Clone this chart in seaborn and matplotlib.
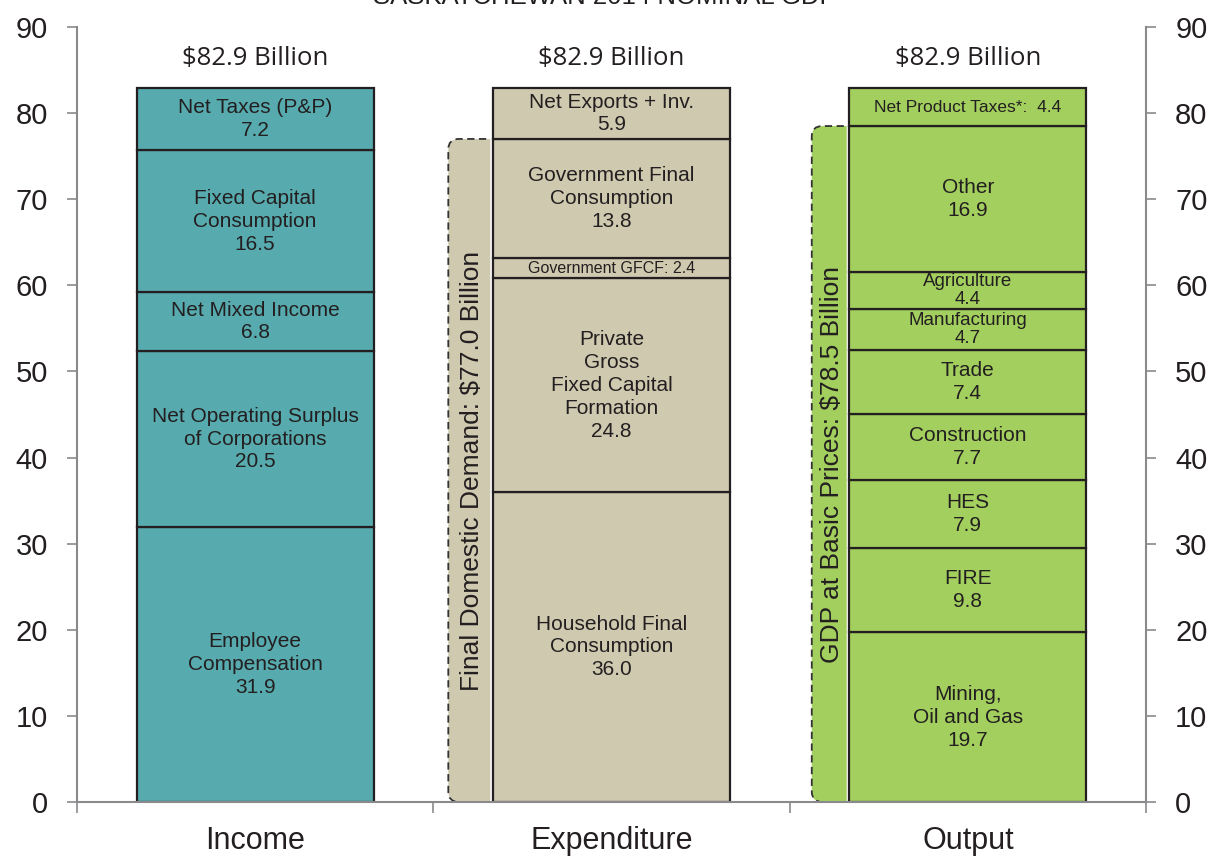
import numpy as np
import pandas as pd
import matplotlib
matplotlib.use("Agg")
import matplotlib.pyplot as plt
from matplotlib.path import Path
from matplotlib.patches import PathPatch
import seaborn as sns

# ---------------- data ----------------
categories = ["Income", "Expenditure", "Output"]
totals_label = ["$82.9 Billion", "$82.9 Billion", "$82.9 Billion"]

income_values = [31.9, 20.5, 6.8, 16.5, 7.2]
income_labels = ["Employee\nCompensation\n31.9",
                 "Net Operating Surplus\nof Corporations\n20.5",
                 "Net Mixed Income\n6.8",
                 "Fixed Capital\nConsumption\n16.5",
                 "Net Taxes (P&P)\n7.2"]

expenditure_values = [36.0, 24.8, 2.4, 13.8, 5.9]
expenditure_labels = ["Household Final\nConsumption\n36.0",
                      "Private\nGross\nFixed Capital\nFormation\n24.8",
                      "Government GFCF: 2.4",
                      "Government Final\nConsumption\n13.8",
                      "Net Exports + Inv.\n5.9"]

output_values = [19.7, 9.8, 7.9, 7.7, 7.4, 4.7, 4.4, 16.9, 4.4]
output_labels = ["Mining,\nOil and Gas\n19.7",
                 "FIRE\n9.8",
                 "HES\n7.9",
                 "Construction\n7.7",
                 "Trade\n7.4",
                 "Manufacturing\n4.7",
                 "Agriculture\n4.4",
                 "Other\n16.9",
                 "Net Product Taxes*:  4.4"]

bracket_totals = [None, 77.0, 78.5]
bracket_labels = [None, "Final Domestic Demand: $77.0 Billion",
                  "GDP at Basic Prices: $78.5 Billion"]

yticks = [0, 10, 20, 30, 40, 50, 60, 70, 80, 90]
title = "SASKATCHEWAN 2014 NOMINAL GDP"

# ---------------- style ----------------
colors = ["#57abae", "#cfc9b0", "#a3cf5e"]
edge = "#231f20"
axis_grey = "#8a8a8c"
text_col = "#231f20"

sns.set_style("white")
plt.rcParams["font.family"] = ["Liberation Sans", "DejaVu Sans"]

fig = plt.figure(figsize=(12.09, 8.57), dpi=100)
ax = fig.add_axes([77 / 1209, 1 - 802 / 857, (1146 - 77) / 1209, (802 - 27) / 857])

bar_w = 0.666
small_fonts = {"Government GFCF: 2.4": 11.5, "Net Product Taxes*:  4.4": 12.5,
               "Agriculture\n4.4": 13.5, "Manufacturing\n4.7": 13.5}

series = [(income_values, income_labels), (expenditure_values, expenditure_labels),
          (output_values, output_labels)]

for ci, (vals, labs) in enumerate(series):
    bottom = 0.0
    for v, lab in zip(vals, labs):
        sns.barplot(x=[categories[ci]], y=[v], order=categories, bottom=bottom,
                    color=colors[ci], saturation=1, edgecolor=edge, linewidth=1.6,
                    width=bar_w, errorbar=None, ax=ax, zorder=3)
        fs = small_fonts.get(lab, 15)
        ls = 1.08 if lab in small_fonts else 1.26
        ax.text(ci, bottom + v / 2, lab, ha="center", va="center", fontsize=fs,
                linespacing=ls, color=text_col, zorder=5)
        bottom += v
    ax.text(ci, 86.3, totals_label[ci], ha="center", va="center", fontsize=18.5,
            family=["Open Sans", "DejaVu Sans"], color=text_col)

# dashed rounded brackets
box_left = {1: 0.542, 2: 1.562}
rx, ry = 0.03, 1.2
for ci in (1, 2):
    top = bracket_totals[ci]
    xl = box_left[ci]
    xr = ci - bar_w / 2 - 0.007
    fill_verts = [(xr, 0), (xl + rx, 0), (xl, 0), (xl, ry), (xl, top - ry),
                  (xl, top), (xl + rx, top), (xr, top), (xr, 0)]
    fill_codes = [Path.MOVETO, Path.LINETO, Path.CURVE3, Path.CURVE3, Path.LINETO,
                  Path.CURVE3, Path.CURVE3, Path.LINETO, Path.CLOSEPOLY]
    ax.add_patch(PathPatch(Path(fill_verts, fill_codes), facecolor=colors[ci],
                           edgecolor="none", zorder=2))
    out_verts = fill_verts[:8]
    out_codes = fill_codes[:8]
    ax.add_patch(PathPatch(Path(out_verts, out_codes), facecolor="none",
                           edgecolor="#333333", linestyle=(0, (4, 2.5)), linewidth=1.3,
                           zorder=2.5))
    ax.text((xl + xr) / 2 + 0.008, top / 2, bracket_labels[ci], rotation=90,
            ha="center", va="center", fontsize=19, color=text_col, zorder=5)

# axes
ax.set_xlim(-0.5, 2.5)
ax.set_ylim(0, 90)
ax.set_yticks(yticks)
ax.set_yticklabels([str(t) for t in yticks])
ax.set_xticks(range(3))
ax.set_xticklabels(categories)
ax.set_xticks([-0.5, 0.5, 1.5, 2.5], minor=True)
ax.set_xlabel("")
ax.set_ylabel("")
ax.tick_params(axis="x", which="major", length=0, pad=17, labelsize=22, labelcolor=text_col)
ax.tick_params(axis="x", which="minor", length=8, width=1.2, color=axis_grey, bottom=True)
ax.tick_params(axis="y", which="major", length=7, width=1.2, color=axis_grey, pad=14,
               labelsize=21, labelcolor=text_col, left=True, direction="out")
for s in ("top", "right"):
    ax.spines[s].set_visible(False)
for s in ("left", "bottom"):
    ax.spines[s].set_visible(True)
    ax.spines[s].set_color(axis_grey)
    ax.spines[s].set_linewidth(1.5)
ax.spines["bottom"].set_zorder(6)

ax2 = ax.twinx()
ax2.set_ylim(0, 90)
ax2.set_yticks(yticks)
ax2.set_yticklabels([str(t) for t in yticks])
ax2.tick_params(axis="y", which="major", length=7, width=1.2, color=axis_grey, pad=14,
                labelsize=21, labelcolor=text_col, right=True, direction="out")
for s in ("top", "left", "bottom"):
    ax2.spines[s].set_visible(False)
ax2.spines["right"].set_visible(True)
ax2.spines["right"].set_color(axis_grey)
ax2.spines["right"].set_linewidth(1.5)
ax2.grid(False)
ax.grid(False)

# title is partly cut off at the top edge, as in the reference
fig.text(605 / 1209, 1 - 4 / 857, title, ha="center", va="baseline", fontsize=18.5,
         color=text_col)

fig.savefig("out.png", dpi=100)
